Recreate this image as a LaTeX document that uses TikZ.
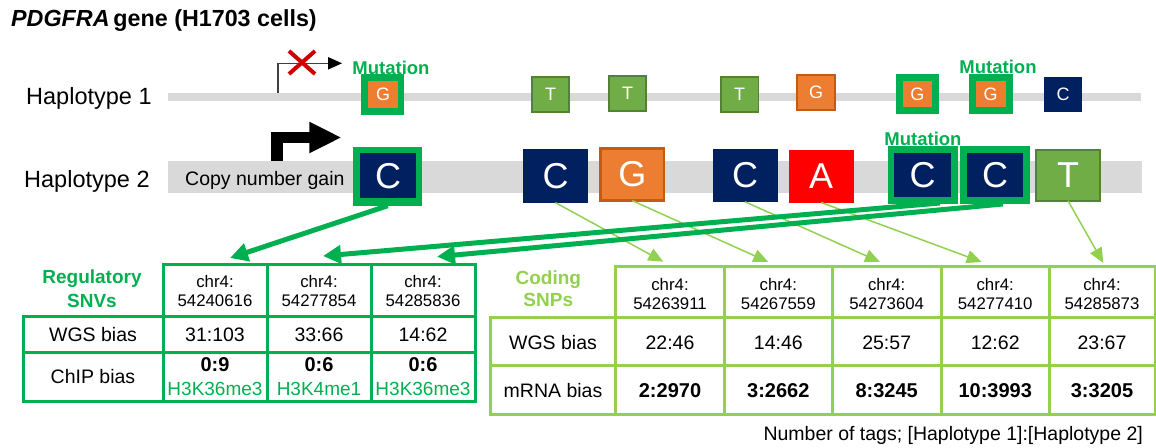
\documentclass[tikz,border=0pt]{standalone}
\usepackage{fontspec}
\setmainfont{Liberation Sans}
\usetikzlibrary{arrows.meta}
\definecolor{barg}{RGB}{217,217,217}
\definecolor{navy}{RGB}{0,32,96}
\definecolor{ora}{RGB}{237,125,49}
\definecolor{orad}{RGB}{197,90,17}
\definecolor{tgr}{RGB}{112,173,71}
\definecolor{tgrd}{RGB}{84,130,53}
\definecolor{mgr}{RGB}{0,176,80}
\definecolor{lgr}{RGB}{146,208,80}
\definecolor{xred}{RGB}{204,0,0}
\newcommand{\myfs}[1]{\fontsize{#1}{#1}\selectfont}
\begin{document}
\begin{tikzpicture}[x=1pt,y=-1pt,
  sbox/.style={minimum width=37.5pt,minimum height=35pt,inner sep=0,outer sep=0,text=white,font=\myfs{18},line width=1.6pt},
  bbox/.style={minimum width=65pt,minimum height=53pt,inner sep=0,outer sep=0,text=white,font=\myfs{36},line width=2.5pt},
  mframe/.style={fill=mgr,inner sep=0,outer sep=0},
  lab/.style={inner sep=0,font=\myfs{19.5}},
  small/.style={inner sep=0,font=\myfs{16.8},align=center},
  mutlab/.style={inner sep=0,font=\bfseries\myfs{18.5},text=mgr},
  garr/.style={draw=mgr,line width=5pt,-{Triangle[length=18pt,width=18pt]}},
  larr/.style={draw=lgr,line width=1.5pt,-{Triangle[length=15pt,width=13pt]}}
]
\useasboundingbox (0,0) rectangle (1156,447);

% title
\node[anchor=west,inner sep=0,font=\bfseries\myfs{23.3}] (title) at (11,21) {\textit{PDGFRA}\,gene (H1703 cells)};

% haplotype labels
\node[anchor=west,inner sep=0,font=\myfs{23.5}] (h1) at (26,98) {Haplotype 1};
\node[anchor=west,inner sep=0,font=\myfs{23.5}] (h2) at (24,181) {Haplotype 2};

% bars
\fill[barg] (168,93.3) rectangle (1141,100.7);
\fill[barg] (168,160.7) rectangle (1142,193.3);
\node[anchor=west,lab] (cng) at (185,180) {Copy number gain};

% promoter haplotype 1
\draw[line width=1.2pt,draw=black!75] (278,93.3) -- (278,63.3) -- (330,63.3);
\fill[black] (328,57) -- (342,63.3) -- (328,69.6) -- cycle;
\draw[xred,line width=4pt] (289,51) -- (315,74) (289,74) -- (315,51);

% promoter haplotype 2
\draw[line width=11.7pt,line join=miter,line cap=butt] (277,160.7) -- (277,137.5) -- (311,137.5);
\fill[black] (309.3,121.7) -- (340.7,137.5) -- (309.3,153.3) -- cycle;

% haplotype 1 boxes
\node[mframe,minimum width=43pt,minimum height=41pt] (g1f) at (382.5,94.5) {};
\node[sbox,fill=ora,minimum width=30pt,minimum height=27pt] (g1) at (383,94.5) {G};
\node[sbox,fill=tgr,draw=tgrd] (t1) at (550.5,94.7) {T};
\node[sbox,fill=tgr,draw=tgrd] (t2) at (627.5,93.7) {T};
\node[sbox,fill=tgr,draw=tgrd] (t3) at (739.7,94.2) {T};
\node[sbox,fill=ora,draw=orad] (g2) at (816,92.5) {G};
\node[mframe,minimum width=43pt,minimum height=40pt] (g3f) at (917.5,94) {};
\node[sbox,fill=ora,minimum width=29.5pt,minimum height=26pt] (g3) at (917.4,94) {G};
\node[mframe,minimum width=44pt,minimum height=40pt] (g4f) at (990.5,94) {};
\node[sbox,fill=ora,minimum width=30pt,minimum height=26pt] (g4) at (990.5,94) {G};
\node[sbox,fill=navy] (c1) at (1063,94.5) {C};

\node[mutlab] (m1) at (391,68) {Mutation};
\node[mutlab] (m2) at (998,67) {Mutation};
\node[mutlab] (m3) at (923,139) {Mutation};

% haplotype 2 boxes
\node[mframe,minimum width=69pt,minimum height=59pt] (cmAf) at (387.8,176.2) {};
\node[bbox,fill=navy,minimum width=55.4pt,minimum height=45pt] (cmA) at (388,175.8) {C};
\node[bbox,fill=navy,minimum width=65.6pt,minimum height=53.3pt] (c2) at (555.5,176) {C};
\node[bbox,fill=ora,draw=orad,minimum width=63.3pt,minimum height=52.3pt] (g5) at (632.3,174.5) {G};
\node[bbox,fill=navy] (c3) at (745,175.3) {C};
\node[bbox,fill=red] (a1) at (821.2,176) {A};
\node[mframe,minimum width=70pt,minimum height=58pt] (cm1f) at (922.7,175) {};
\node[bbox,fill=navy,minimum width=56.7pt,minimum height=44pt] (cm1) at (922.7,175.3) {C};
\node[mframe,minimum width=70pt,minimum height=58pt] (cm2f) at (995,175) {};
\node[bbox,fill=navy,minimum width=56.7pt,minimum height=44pt] (cm2) at (995,175.3) {C};
\node[bbox,fill=tgr,draw=tgrd,minimum width=64pt,minimum height=51pt] (t4) at (1068,175.3) {T};

% arrow end points
\coordinate (ra) at (230,258);
\coordinate (rb) at (323,256);
\coordinate (rc) at (437,256.7);
\coordinate (s2) at (940,203);
\coordinate (s3) at (1003,204);
\coordinate (ca) at (663.3,261.7);
\coordinate (cb) at (768.3,262);
\coordinate (cc) at (880,262);
\coordinate (cd) at (981.7,262);
\coordinate (ce) at (1103.3,263);

% thin coding arrows
\draw[larr] (c2.south) -- (ca);
\draw[larr] (g5.south) -- (cb);
\draw[larr] (c3.south) -- (cc);
\draw[larr] (a1.south) -- (cd);
\draw[larr] (t4.south) -- (ce);

% thick regulatory arrows
\draw[garr] (cmAf.south) -- (ra);
\draw[garr] (s2) -- (rb);
\draw[garr] (s3) -- (rc);

% regulatory table
\begin{scope}[draw=mgr,line width=3pt]
\draw (163,264) rectangle (475,401);
\draw (23,316) rectangle (163,401);
\draw (23,316) -- (475,316) (23,352) -- (475,352);
\draw (267,264) -- (267,401) (371,264) -- (371,401);
\end{scope}
\node[inner sep=0,font=\bfseries\myfs{19},text=mgr,align=center] (regt) at (92,289) {Regulatory\\[5pt]SNVs};
\node[small] (rh1) at (215,291) {chr4:\\[2.2pt]54240616};
\node[small] (rh2) at (319,291) {chr4:\\[2.2pt]54277854};
\node[small] (rh3) at (423,291) {chr4:\\[2.2pt]54285836};
\node[lab] (rwl) at (93,335) {WGS bias};
\node[lab] (rw1) at (215,335) {31:103};
\node[lab] (rw2) at (319,335) {33:66};
\node[lab] (rw3) at (423,335) {14:62};
\node[lab] (rcl) at (93,377) {ChIP bias};
\node[inner sep=0,font=\bfseries\myfs{20}] (rc1) at (215,365) {0:9};
\node[inner sep=0,font=\bfseries\myfs{20}] (rc2) at (319,365) {0:6};
\node[inner sep=0,font=\bfseries\myfs{20}] (rc3) at (423,365) {0:6};
\node[lab,text=mgr,font=\myfs{19}] (rk1) at (215,388.5) {H3K36me3};
\node[lab,text=mgr,font=\myfs{19}] (rk2) at (319,388.5) {H3K4me1};
\node[lab,text=mgr,font=\myfs{19}] (rk3) at (423,388.5) {H3K36me3};

% coding table
\begin{scope}[draw=lgr,line width=3pt]
\draw (615.7,266) rectangle (1155,414);
\draw (490,317.3) rectangle (615.7,414);
\draw (490,317.3) -- (1155,317.3) (490,365) -- (1155,365);
\draw (724.3,266) -- (724.3,414) (832.3,266) -- (832.3,414) (941,266) -- (941,414) (1049.3,266) -- (1049.3,414);
\end{scope}
\node[inner sep=0,font=\bfseries\myfs{19},text=lgr,align=center] (codt) at (548.3,289) {Coding\\[3.3pt]SNPs};
\node[small] (ch1) at (670,293.5) {chr4:\\[2.2pt]54263911};
\node[small] (ch2) at (778.3,293.5) {chr4:\\[2.2pt]54267559};
\node[small] (ch3) at (886.7,293.5) {chr4:\\[2.2pt]54273604};
\node[small] (ch4) at (995.2,293.5) {chr4:\\[2.2pt]54277410};
\node[small] (ch5) at (1102,293.5) {chr4:\\[2.2pt]54285873};
\node[lab] (cwl) at (553,342.3) {WGS bias};
\node[lab] (cw1) at (670,342.3) {22:46};
\node[lab] (cw2) at (778.3,342.3) {14:46};
\node[lab] (cw3) at (886.7,342.3) {25:57};
\node[lab] (cw4) at (995.2,342.3) {12:62};
\node[lab] (cw5) at (1102,342.3) {23:67};
\node[lab] (cml) at (553,390.5) {mRNA bias};
\node[inner sep=0,font=\bfseries\myfs{20}] (cm1v) at (670,390.5) {2:2970};
\node[inner sep=0,font=\bfseries\myfs{20}] (cm2v) at (778.3,390.5) {3:2662};
\node[inner sep=0,font=\bfseries\myfs{20}] (cm3v) at (886.7,390.5) {8:3245};
\node[inner sep=0,font=\bfseries\myfs{20}] (cm4v) at (995.2,390.5) {10:3993};
\node[inner sep=0,font=\bfseries\myfs{20}] (cm5v) at (1102,390.5) {3:3205};

\node[anchor=west,lab] (note) at (763.3,435) {Number of tags; [Haplotype 1]:[Haplotype 2]};
\end{tikzpicture}
\end{document}
